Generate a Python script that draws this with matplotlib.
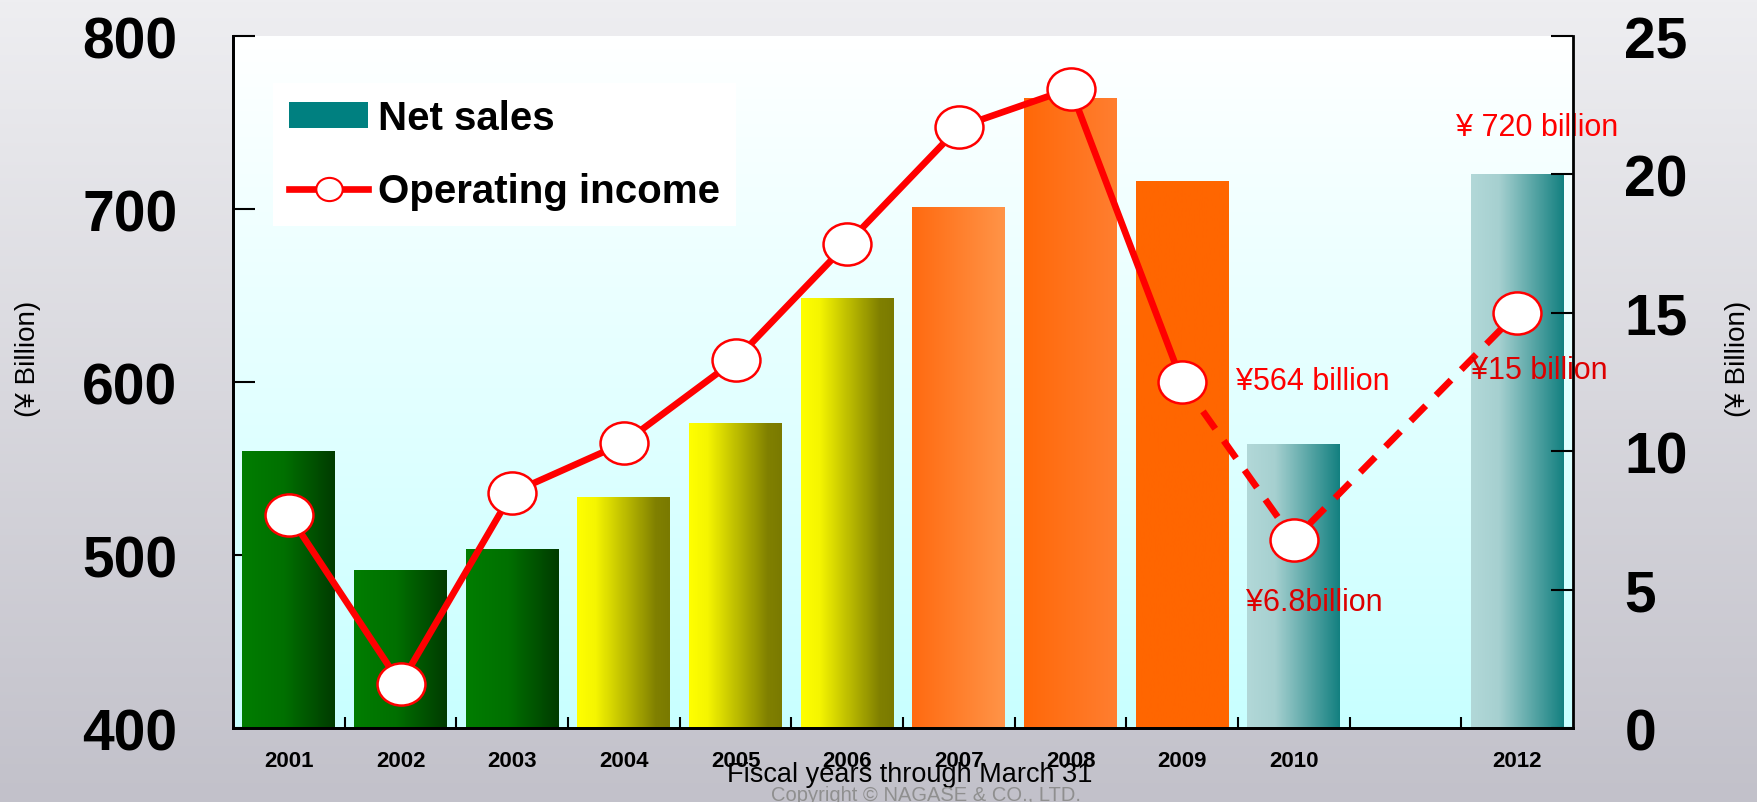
import numpy as np
import matplotlib
matplotlib.use('Agg')
import matplotlib.pyplot as plt
from matplotlib.colors import LinearSegmentedColormap
from matplotlib.lines import Line2D
from matplotlib.patches import Patch
from matplotlib.path import Path
from matplotlib.transforms import Affine2D

plt.rcParams['font.family'] = ['Liberation Sans', 'DejaVu Sans']

# fiscal years (2011 has no data, its slot stays empty)
years = [2001, 2002, 2003, 2004, 2005, 2006, 2007, 2008, 2009, 2010, 2012]
net_sales = [560, 491, 503, 533, 576, 648, 701, 764, 716, 564, 720]       # left axis, billion yen
op_income = [7.7, 1.6, 8.5, 10.3, 13.3, 17.5, 21.7, 23.1, 12.5, 6.8, 15]  # right axis, billion yen

sales_ticks = [400, 500, 600, 700, 800]
income_ticks = [0, 5, 10, 15, 20, 25]

# horizontal gradient stops for each bar
green = [(0, '#007D00'), (0.45, '#007000'), (1, '#003B00')]
yellow = [(0, '#FFFF00'), (0.2, '#F5F500'), (0.85, '#808000'), (1, '#7A7A00')]
teal = [(0, '#B2D8D8'), (0.3, '#A6D0D0'), (1, '#138080')]
bar_fill = [green, green, green, yellow, yellow, yellow,
            [(0, '#FF6A10'), (1, '#FF9448')],
            [(0, '#FF6808'), (1, '#FF7E30')],
            [(0, '#FF6600'), (1, '#FF6600')],
            teal, teal]

x = np.array(years) - years[0]
n_slots = years[-1] - years[0] + 1

fig = plt.figure(figsize=(17.58, 8.03), dpi=100)

# grey backdrop, lighter at the top
bg = fig.add_axes([0, 0, 1, 1], zorder=-5)
bg.imshow(np.linspace(0, 1, 256)[:, None], aspect='auto', extent=[0, 1, 0, 1],
          cmap=LinearSegmentedColormap.from_list('bg', ['#EEEEF1', '#C2C1CA']))
bg.axis('off')

ax = fig.add_axes([0.13254, 0.09215, 0.76223, 0.86177])
ax.patch.set_alpha(0)
ax.imshow(np.linspace(0, 1, 256)[:, None], aspect='auto', extent=[0, 1, 0, 1],
          transform=ax.transAxes, zorder=0,
          cmap=LinearSegmentedColormap.from_list('plot', ['#FFFFFF', '#C8FFFF']))

bars = ax.bar(x, net_sales, width=0.83, color='none', edgecolor='none', zorder=2)
for rect, fill in zip(bars, bar_fill):
    x0, w, h = rect.get_x(), rect.get_width(), rect.get_height()
    cmap = LinearSegmentedColormap.from_list('bar', fill)
    ax.imshow(np.linspace(0, 1, 256)[None, :], cmap=cmap, aspect='auto',
              extent=(x0, x0 + w, sales_ticks[0], h), zorder=2)

ax.set_xlim(-0.5, n_slots - 0.5)
ax.set_ylim(sales_ticks[0], sales_ticks[-1])
ax.set_xticks(x)
ax.set_xticklabels([str(y) for y in years], fontsize=16, fontweight='bold')
ax.set_xticks(np.arange(0.5, n_slots - 0.5, 1), minor=True)
ax.tick_params(axis='x', which='major', length=0, pad=16)
ax.tick_params(axis='x', which='minor', direction='in', length=8, width=1.5)
ax.set_yticks(sales_ticks)
ax.set_yticklabels([str(t) for t in sales_ticks], fontsize=41, fontweight='bold')
ax.tick_params(axis='y', direction='in', length=16, width=1.5, pad=40)
ax.spines['top'].set_visible(False)
ax.spines['right'].set_visible(False)
for s in ('left', 'bottom'):
    ax.spines[s].set_linewidth(2)

ax2 = ax.twinx()
ax2.set_ylim(income_ticks[0], income_ticks[-1])
ax2.set_yticks(income_ticks)
ax2.set_yticklabels([str(t) for t in income_ticks], fontsize=41, fontweight='bold')
ax2.tick_params(axis='y', direction='in', length=16, width=1.5, pad=37)
ax2.spines['top'].set_visible(False)
for s in ('left', 'bottom', 'right'):
    ax2.spines[s].set_linewidth(2)

# slightly wide oval marker
oval = Path.unit_circle().transformed(Affine2D().scale(1, 0.88))

ax2.plot(x[:9], op_income[:9], color='red', lw=4.8, solid_capstyle='round', zorder=3)
ax2.plot(x[8:], op_income[8:], color='red', lw=4.8, ls=(0, (3.2, 2.2)), zorder=3)
ax2.plot(x, op_income, ls='none', marker=oval, ms=34.5, mfc='white', mec='red',
         mew=1.8, zorder=4)

# value call-outs
ax.annotate(f'¥ {net_sales[-1]} billion', xy=(x[-1], net_sales[-1]),
            xytext=(20, 47), textcoords='offset pixels', ha='center', va='center',
            fontsize=22, color='#FF0000')
ax.annotate(f'¥{net_sales[9]} billion', xy=(x[9], net_sales[9]),
            xytext=(19, 63), textcoords='offset pixels', ha='center', va='center',
            fontsize=22, color='#FF0000')
ax2.annotate(f'¥{op_income[-1]:g} billion', xy=(x[-1], op_income[-1]),
             xytext=(22, -57), textcoords='offset pixels', ha='center', va='center',
             fontsize=22, color='#DD0000')
ax2.annotate(f'¥{op_income[9]:g}billion', xy=(x[9], op_income[9]),
             xytext=(20, -62), textcoords='offset pixels', ha='center', va='center',
             fontsize=22, color='#DD0000')

handles = [Patch(facecolor='#008080', edgecolor='none'),
           Line2D([], [], color='red', lw=4.8, marker=oval, ms=19,
                  mfc='white', mec='red', mew=1.5)]
leg = ax.legend(handles, ['Net sales', 'Operating income'], loc='upper left',
                bbox_to_anchor=(0.03, 0.932), borderaxespad=0, fancybox=False,
                facecolor='white', edgecolor='none', framealpha=1,
                prop={'weight': 'bold', 'size': 29}, handlelength=1.95,
                handleheight=0.6, handletextpad=0.25, labelspacing=0.87,
                borderpad=0.4)
leg.set_zorder(5)

fig.text(0.016, 0.553, '(¥ Billion)', rotation=90, fontsize=20, ha='center', va='center')
fig.text(0.9886, 0.553, '(¥ Billion)', rotation=90, fontsize=20, ha='center', va='center')
fig.text(0.5176, 0.0349, 'Fiscal years through March 31', fontsize=19.5,
         ha='center', va='center')
fig.text(0.527, 0.0212, 'Copyright © NAGASE & CO., LTD.', fontsize=14.5,
         color='#8F8F8F', ha='center', va='top')

fig.savefig('out.png', dpi=100)
